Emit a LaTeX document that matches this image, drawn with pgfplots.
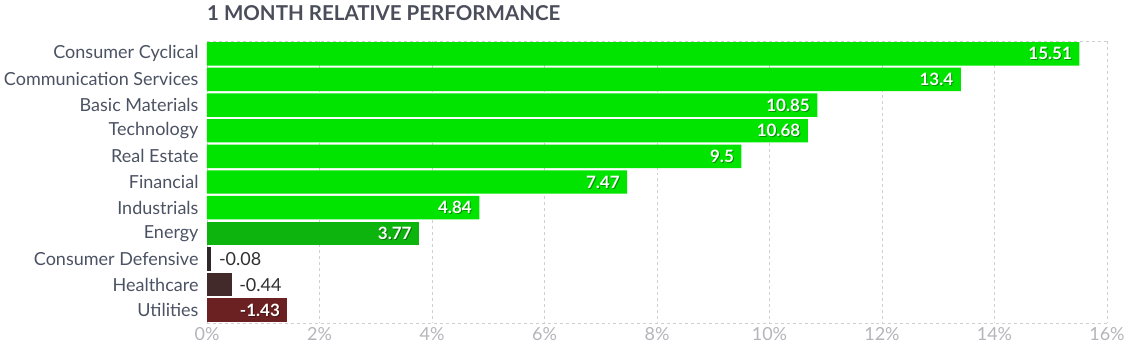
\documentclass[border=0pt]{standalone}
\usepackage{pgfplots}
\pgfplotsset{compat=1.18}
\usepackage{pgfplotstable}
\usepackage{fontspec}
\setmainfont{Lato}
\definecolor{brightgreen}{HTML}{00E400}
\definecolor{energygreen}{HTML}{0DB40D}
\definecolor{cdcol}{HTML}{2E2828}
\definecolor{hccol}{HTML}{422A2A}
\definecolor{utcol}{HTML}{6B2121}
\definecolor{gridcol}{HTML}{D0D0D4}
\definecolor{catcol}{HTML}{4B5263}
\definecolor{tickcol}{HTML}{B4B4BA}
\definecolor{titlecol}{HTML}{4A4E5A}
\definecolor{outcol}{HTML}{303030}

\pgfplotstableread{
y x label
0 15.51 15.51
1 13.40 13.4
2 10.85 10.85
3 10.68 10.68
4 9.50 9.5
5 7.47 7.47
6 4.84 4.84
}\greenbars
\pgfplotstableread{
y x label
7 3.77 3.77
}\energybar
\pgfplotstableread{
y x label
8 0.08 -0.08
}\cdbar
\pgfplotstableread{
y x label
9 0.44 -0.44
}\hcbar
\pgfplotstableread{
y x label
10 1.43 -1.43
}\utbar

\begin{document}
\begin{tikzpicture}
\begin{axis}[
  scale only axis,
  width=900bp, height=282bp,
  xbar, bar shift=0pt, bar width=0.915,
  xmin=0, xmax=16,
  ymin=-0.5, ymax=10.5,
  y dir=reverse,
  xtick={0,2,...,16},
  xticklabel={\pgfmathprintnumber{\tick}\%},
  /pgf/number format/assume math mode=true,
  ytick={0,...,10},
  yticklabels={Consumer Cyclical,Communication Services,Basic Materials,Technology,Real Estate,Financial,Industrials,Energy,Consumer Defensive,Healthcare,Utilities},
  yticklabel style={font=\fontsize{18bp}{20bp}\selectfont, text=catcol, xshift=-5bp},
  xticklabel style={font=\fontsize{18bp}{20bp}\selectfont, text=tickcol, yshift=-1bp},
  major tick length=0pt,
  axis line style={draw=none},
  xmajorgrids,
  grid style={gridcol, dashed, line width=0.8bp},
  extra y ticks={-0.5,10.5},
  extra y tick labels={},
  extra y tick style={grid=major},
  point meta=explicit symbolic,
  nodes near coords,
  every node near coord/.append style={font=\bfseries\fontsize{17bp}{19bp}\selectfont},
  clip=false,
]
\coordinate (ll) at (rel axis cs:0,0);
\coordinate (ur) at (rel axis cs:1,1);
\coordinate (ul) at (rel axis cs:0,1);
% shadows for white labels
\addplot[draw=none, fill=none, forget plot, every node near coord/.append style={anchor=east, xshift=-3bp, yshift=-1bp, text=black, opacity=0.35}] table[x=x,y=y,meta=label] {\greenbars};
\addplot[draw=none, fill=none, forget plot, every node near coord/.append style={anchor=east, xshift=-3bp, yshift=-1bp, text=black, opacity=0.35}] table[x=x,y=y,meta=label] {\energybar};
\addplot[draw=none, fill=none, forget plot, every node near coord/.append style={anchor=east, xshift=-3bp, yshift=-1bp, text=black, opacity=0.35}] table[x=x,y=y,meta=label] {\utbar};
% bars
\addplot[draw=none, fill=brightgreen, every node near coord/.append style={anchor=east, xshift=-4bp, text=white}] table[x=x,y=y,meta=label] {\greenbars};
\addplot[draw=none, fill=energygreen, every node near coord/.append style={anchor=east, xshift=-4bp, text=white}] table[x=x,y=y,meta=label] {\energybar};
\addplot[draw=none, fill=cdcol, every node near coord/.append style={anchor=west, xshift=4bp, text=outcol, font=\fontsize{18bp}{20bp}\selectfont}] table[x=x,y=y,meta=label] {\cdbar};
\addplot[draw=none, fill=hccol, every node near coord/.append style={anchor=west, xshift=4bp, text=outcol, font=\fontsize{18bp}{20bp}\selectfont}] table[x=x,y=y,meta=label] {\hcbar};
\addplot[draw=none, fill=utcol, every node near coord/.append style={anchor=east, xshift=-4bp, text=white}] table[x=x,y=y,meta=label] {\utbar};
\end{axis}
\node[anchor=base west, text=titlecol, font=\bfseries\fontsize{20.5bp}{22bp}\selectfont, inner sep=0pt] at ([yshift=20bp]ul) {1 MONTH RELATIVE PERFORMANCE};
\pgfresetboundingbox
\path[use as bounding box] ([xshift=-207bp,yshift=-29bp]ll) rectangle ([xshift=24bp,yshift=41bp]ur);
\end{tikzpicture}
\end{document}
